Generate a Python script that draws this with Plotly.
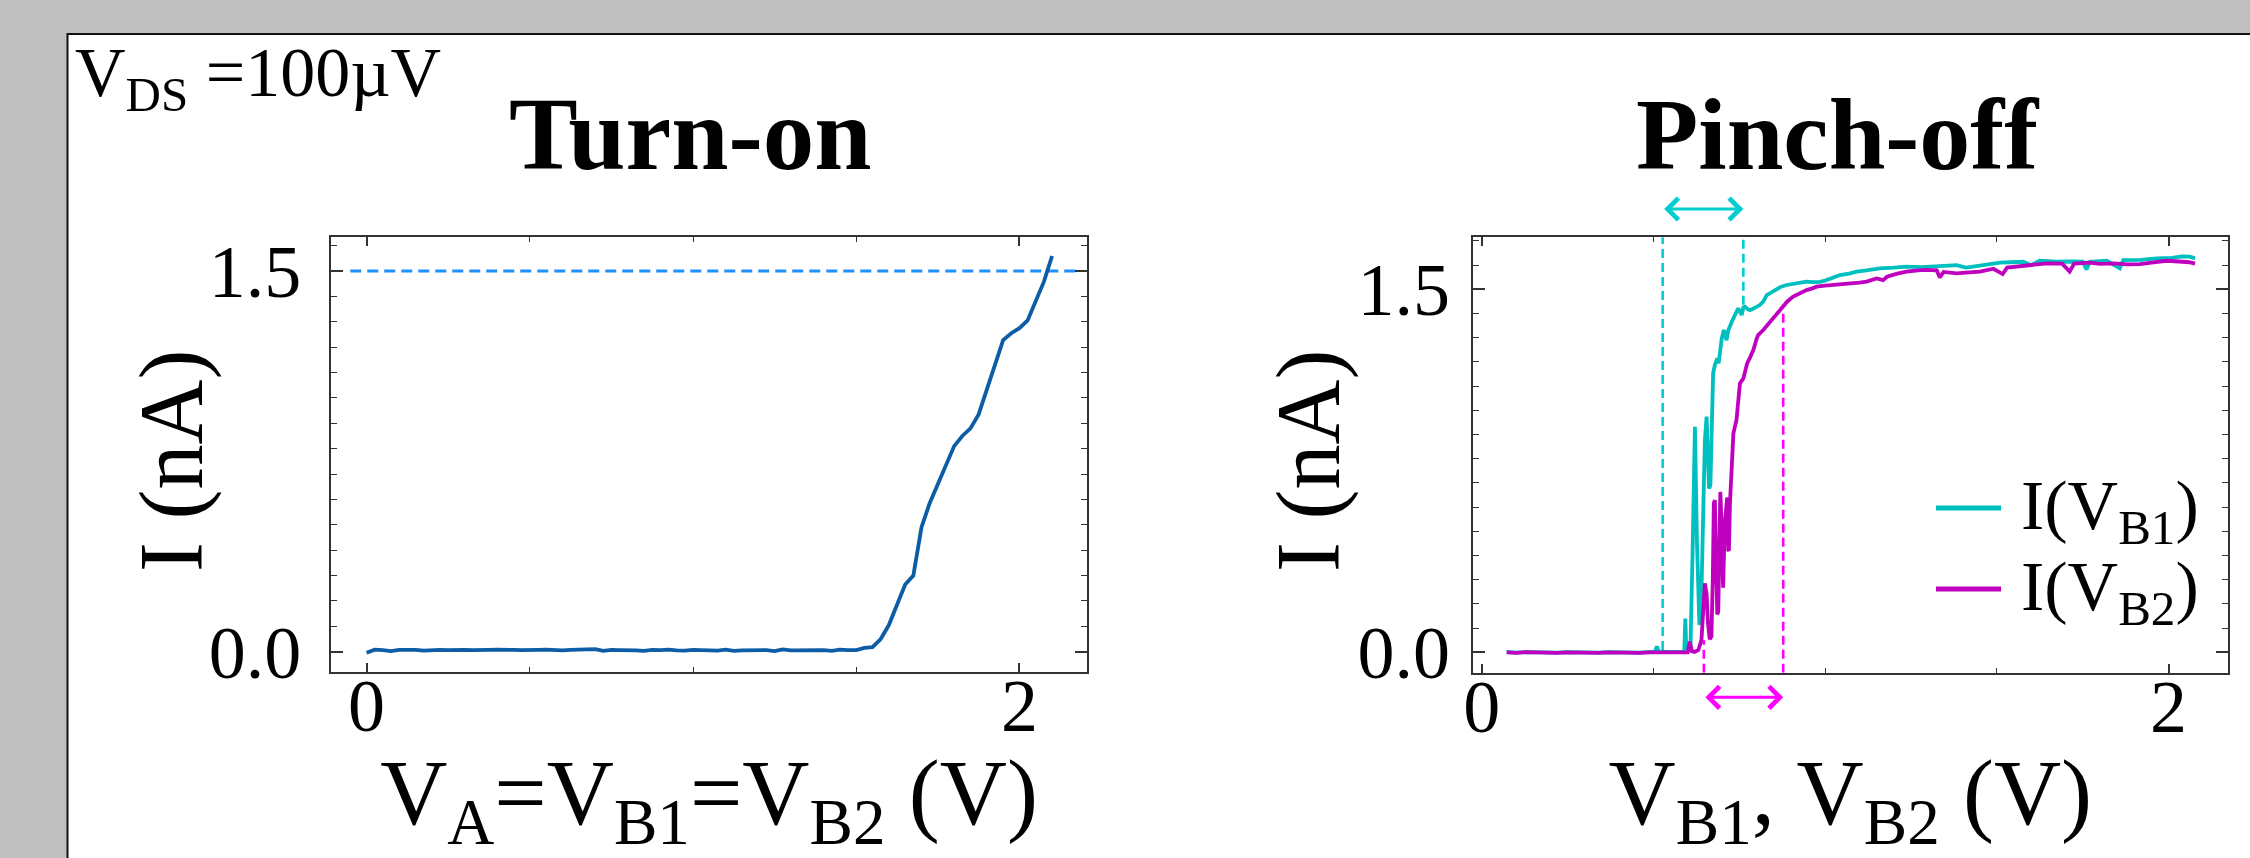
import plotly.graph_objects as go

# ---------------- data ----------------
# Turn-on sweep (V_A = V_B1 = V_B2)
turn_on_v = [0.000, 0.025, 0.050, 0.075, 0.100, 0.125, 0.150, 0.175, 0.200, 0.225,
             0.250, 0.275, 0.300, 0.325, 0.350, 0.375, 0.400, 0.425, 0.450, 0.475,
             0.500, 0.525, 0.550, 0.575, 0.600, 0.625, 0.650, 0.675, 0.700, 0.725,
             0.750, 0.775, 0.800, 0.825, 0.850, 0.875, 0.900, 0.925, 0.950, 0.975,
             1.000, 1.025, 1.050, 1.075, 1.100, 1.125, 1.150, 1.175, 1.200, 1.225,
             1.250, 1.275, 1.300, 1.325, 1.350, 1.375, 1.400, 1.425, 1.450, 1.475,
             1.500, 1.525, 1.550, 1.575, 1.600, 1.625, 1.650, 1.675, 1.700, 1.725,
             1.750, 1.775, 1.800, 1.825, 1.850, 1.875, 1.900, 1.925, 1.950, 1.975,
             2.000, 2.025, 2.050, 2.075, 2.100]
turn_on_i = [-0.004, 0.008, 0.006, 0.002, 0.007, 0.008, 0.007, 0.004, 0.006, 0.007,
             0.006, 0.008, 0.007, 0.006, 0.005, 0.007, 0.008, 0.006, 0.007, 0.006,
             0.005, 0.007, 0.008, 0.006, 0.005, 0.007, 0.009, 0.008, 0.010, 0.003,
             0.007, 0.006, 0.007, 0.005, 0.003, 0.007, 0.006, 0.008, 0.005, 0.004,
             0.007, 0.006, 0.003, 0.004, 0.008, 0.003, 0.005, 0.006, 0.004, 0.006,
             0.002, 0.009, 0.005, 0.005, 0.007, 0.007, 0.006, 0.003, 0.008, 0.006,
             0.006, 0.015, 0.018, 0.050, 0.105, 0.185, 0.265, 0.300, 0.490, 0.585,
             0.660, 0.735, 0.810, 0.850, 0.880, 0.935, 1.030, 1.130, 1.228, 1.255,
             1.275, 1.305, 1.380, 1.458, 1.559]
turn_on_level = 1.5                 # nA, dashed reference current
turn_on_level_span = [-0.05, 2.19]  # V

# Pinch-off sweeps
b1_v = [0.073, 0.100, 0.130, 0.160, 0.190, 0.220, 0.250, 0.280, 0.310, 0.340,
        0.370, 0.400, 0.430, 0.460, 0.490, 0.505, 0.510, 0.515, 0.540, 0.570,
        0.590, 0.593, 0.596, 0.600, 0.608, 0.614, 0.621, 0.627, 0.634, 0.640,
        0.646, 0.650, 0.655, 0.659, 0.662, 0.666, 0.670, 0.674, 0.679, 0.683,
        0.686, 0.690, 0.695, 0.699, 0.705, 0.709, 0.713, 0.718, 0.723, 0.728,
        0.733, 0.740, 0.747, 0.752, 0.757, 0.762, 0.767, 0.775, 0.781, 0.790,
        0.801, 0.810, 0.820, 0.830, 0.839, 0.854, 0.870, 0.888, 0.905, 0.927,
        0.946, 0.965, 0.985, 1.000, 1.020, 1.043, 1.070, 1.092, 1.120, 1.160,
        1.200, 1.237, 1.280, 1.334, 1.360, 1.383, 1.410, 1.431, 1.470, 1.509,
        1.540, 1.577, 1.600, 1.625, 1.650, 1.674, 1.720, 1.750, 1.761, 1.771,
        1.800, 1.820, 1.858, 1.868, 1.920, 1.965, 2.010, 2.040, 2.062, 2.077]
b1_i = [0.002, -0.001, 0.001, 0.000, 0.002, -0.001, 0.001, 0.000, 0.002, -0.001,
        0.001, 0.000, 0.001, -0.001, 0.002, 0.003, 0.025, 0.004, 0.002, 0.003,
        0.003, 0.140, 0.005, 0.004, 0.020, 0.400, 0.932, 0.450, 0.113, 0.250,
        0.600, 0.877, 0.974, 0.800, 0.677, 0.690, 0.891, 1.153, 1.187, 1.210,
        1.215, 1.195, 1.260, 1.297, 1.332, 1.300, 1.290, 1.330, 1.352, 1.365,
        1.380, 1.405, 1.421, 1.410, 1.394, 1.425, 1.428, 1.418, 1.414, 1.420,
        1.428, 1.435, 1.449, 1.476, 1.483, 1.497, 1.510, 1.518, 1.522, 1.527,
        1.532, 1.530, 1.531, 1.536, 1.545, 1.559, 1.565, 1.573, 1.578, 1.587,
        1.590, 1.594, 1.592, 1.594, 1.598, 1.600, 1.590, 1.594, 1.602, 1.610,
        1.612, 1.614, 1.600, 1.618, 1.616, 1.614, 1.615, 1.614, 1.582, 1.614,
        1.616, 1.618, 1.587, 1.621, 1.622, 1.628, 1.630, 1.636, 1.635, 1.628]

b2_v = [0.073, 0.100, 0.130, 0.160, 0.190, 0.220, 0.250, 0.280, 0.310, 0.340,
        0.370, 0.400, 0.430, 0.460, 0.490, 0.520, 0.550, 0.580, 0.600, 0.606,
        0.612, 0.620, 0.631, 0.640, 0.646, 0.650, 0.655, 0.659, 0.664, 0.669,
        0.673, 0.676, 0.679, 0.682, 0.686, 0.689, 0.693, 0.695, 0.698, 0.701,
        0.703, 0.708, 0.713, 0.715, 0.718, 0.720, 0.723, 0.728, 0.733, 0.742,
        0.752, 0.762, 0.773, 0.782, 0.791, 0.801, 0.805, 0.820, 0.839, 0.859,
        0.878, 0.890, 0.907, 0.927, 0.946, 0.965, 0.975, 1.000, 1.030, 1.072,
        1.100, 1.121, 1.150, 1.169, 1.180, 1.210, 1.237, 1.270, 1.295, 1.325,
        1.334, 1.345, 1.383, 1.420, 1.451, 1.490, 1.517, 1.530, 1.577, 1.610,
        1.645, 1.690, 1.712, 1.725, 1.771, 1.800, 1.839, 1.880, 1.917, 1.950,
        1.994, 2.030, 2.060, 2.077]
b2_i = [0.000, -0.002, 0.001, -0.001, 0.000, -0.002, 0.000, -0.001, 0.001, -0.002,
        0.000, -0.001, 0.000, -0.002, 0.000, -0.001, 0.000, -0.001, 0.000, 0.044,
        0.005, 0.002, 0.010, 0.051, 0.180, 0.285, 0.240, 0.120, 0.054, 0.065,
        0.300, 0.616, 0.629, 0.423, 0.157, 0.168, 0.500, 0.663, 0.550, 0.271,
        0.267, 0.533, 0.636, 0.640, 0.423, 0.420, 0.616, 0.767, 0.905, 0.960,
        1.111, 1.132, 1.194, 1.220, 1.249, 1.297, 1.311, 1.332, 1.365, 1.394,
        1.430, 1.450, 1.470, 1.483, 1.497, 1.505, 1.511, 1.515, 1.518, 1.525,
        1.528, 1.532, 1.545, 1.538, 1.552, 1.565, 1.573, 1.578, 1.580, 1.578,
        1.549, 1.572, 1.566, 1.570, 1.573, 1.585, 1.563, 1.590, 1.596, 1.600,
        1.607, 1.606, 1.573, 1.606, 1.610, 1.605, 1.607, 1.603, 1.604, 1.610,
        1.618, 1.615, 1.612, 1.606]

# pinch-off windows (V) and the current where the markers meet the curves (nA)
b1_window = [0.527, 0.762]
b1_window_i = [0.010, 1.436]
b2_window = [0.647, 0.878]
b2_window_i = [0.050, 1.420]

series_names = ["I(V<sub>B1</sub>)", "I(V<sub>B2</sub>)"]

# axis settings
x1_range = [-0.109, 2.207]
y1_range = [-0.080, 1.634]
x2_range = [-0.026, 2.173]
y2_range = [-0.084, 1.715]
x_tickvals = [0, 2]
x_ticktext = ["0", "2"]
y_label_vals = [0.0, 1.5]
y_label_text = ["0.0", "1.5"]
y_major_unlabelled = [0.5, 1.0]

# ---------------- style ----------------
FONT = "Liberation Serif"
BLUE = "#0C5DA5"
DODGER = "#1E90FF"
CYAN = "#00BFBF"
MAGENTA = "#BF00BF"
CYAN_D = "#00CED1"
MAGENTA_D = "#FF00FF"
AXC = "#333333"
LW = 3.8

W, H = 2250, 858

fig = go.Figure()

# left panel
fig.add_trace(go.Scatter(x=turn_on_level_span, y=[turn_on_level, turn_on_level],
                         mode="lines", line=dict(color=DODGER, width=3, dash="11px,6px"),
                         showlegend=False, hoverinfo="skip", xaxis="x", yaxis="y"))
fig.add_trace(go.Scatter(x=turn_on_v, y=turn_on_i, mode="lines",
                         line=dict(color=BLUE, width=LW), showlegend=False,
                         xaxis="x", yaxis="y"))

# right panel: window markers
for v, lev in zip(b1_window, b1_window_i):
    fig.add_trace(go.Scatter(x=[v, v], y=[lev, y2_range[1]], mode="lines",
                             line=dict(color=CYAN_D, width=2.6, dash="9px,5px"),
                             showlegend=False, hoverinfo="skip", xaxis="x2", yaxis="y2"))
for v, lev in zip(b2_window, b2_window_i):
    fig.add_trace(go.Scatter(x=[v, v], y=[y2_range[0], lev], mode="lines",
                             line=dict(color=MAGENTA_D, width=2.6, dash="9px,5px"),
                             showlegend=False, hoverinfo="skip", xaxis="x2", yaxis="y2"))

fig.add_trace(go.Scatter(x=b1_v, y=b1_i, mode="lines", name=series_names[0],
                         line=dict(color=CYAN, width=LW), showlegend=False,
                         xaxis="x2", yaxis="y2"))
fig.add_trace(go.Scatter(x=b2_v, y=b2_i, mode="lines", name=series_names[1],
                         line=dict(color=MAGENTA, width=LW), showlegend=False,
                         xaxis="x2", yaxis="y2"))


def xax(domain, rng, anchor):
    return dict(domain=domain, range=rng, anchor=anchor, showgrid=False, zeroline=False,
                showline=True, linecolor=AXC, linewidth=2, mirror="allticks",
                ticks="inside", ticklen=9, tickwidth=1.6, tickcolor=AXC,
                tickvals=x_tickvals, ticktext=x_ticktext,
                tickfont=dict(family=FONT, size=74, color="black"),
                ticklabelstandoff=-32,
                minor=dict(dtick=0.5, tick0=0, ticks="inside", ticklen=5,
                           tickwidth=1.4, tickcolor=AXC, showgrid=False),
                automargin=False, fixedrange=True)


def yax(domain, rng, anchor, standoff):
    return dict(domain=domain, range=rng, anchor=anchor, showgrid=False, zeroline=False,
                showline=True, linecolor=AXC, linewidth=2, mirror="allticks",
                ticks="inside", ticklen=12, tickwidth=1.6, tickcolor=AXC,
                tickvals=y_label_vals, ticktext=y_label_text,
                tickfont=dict(family=FONT, size=74, color="black"),
                ticklabelstandoff=standoff,
                minor=dict(dtick=0.1, tick0=0, ticks="inside", ticklen=6,
                           tickwidth=1.4, tickcolor=AXC, showgrid=False),
                automargin=False, fixedrange=True)


def yax_major(overlay, rng, anchor):
    # unlabelled long ticks at 0.5 and 1.0 nA
    return dict(overlaying=overlay, range=rng, anchor=anchor, showgrid=False,
                zeroline=False, showline=False, mirror="allticks",
                ticks="inside", ticklen=12, tickwidth=1.6, tickcolor=AXC,
                tickvals=y_major_unlabelled, showticklabels=False,
                automargin=False, fixedrange=True)


D1x = [331 / W, 1087 / W]
D1y = [1 - 672 / H, 1 - 237 / H]
D2x = [1472.7 / W, 2228 / W]
D2y = [1 - 672.7 / H, 1 - 237.3 / H]

xa1 = xax(D1x, x1_range, "y")
xa1.update(title=dict(text="V<sub>A</sub>=V<sub>B1</sub>=V<sub>B2</sub> (V)",
                      font=dict(family=FONT, size=93, color="black"), standoff=24))
ya1 = yax(D1y, y1_range, "x", 13)
xa2 = xax(D2x, x2_range, "y2")
xa2.update(title=dict(text="V<sub>B1</sub>, V<sub>B2</sub> (V)",
                      font=dict(family=FONT, size=93, color="black"), standoff=24))
ya2 = yax(D2y, y2_range, "x2", 6)

fig.update_layout(
    width=W, height=H,
    margin=dict(l=0, r=0, t=0, b=0, pad=0),
    paper_bgcolor="#bfbfbf", plot_bgcolor="white",
    font=dict(family=FONT, color="black"),
    xaxis=xa1, yaxis=ya1, xaxis2=xa2, yaxis2=ya2,
    yaxis3=yax_major("y", y1_range, "x"),
    yaxis4=yax_major("y2", y2_range, "x2"),
    showlegend=False,
)

# white figure panel with black frame
fig.add_shape(type="rect", xref="paper", yref="paper",
              x0=67.5 / W, y0=-0.05, x1=1.05, y1=1 - 34 / H,
              line=dict(color="#111111", width=2), fillcolor="white", layer="below")

# y-axis titles
for xc in (172, 1309):
    fig.add_annotation(x=xc / W, xref="paper", y=1 - 461 / H, yref="paper",
                       xanchor="center", yanchor="middle", showarrow=False,
                       textangle=-90, text="I (nA)",
                       font=dict(family=FONT, size=90, color="black"))

# text
fig.add_annotation(x=73 / W, xref="paper", y=1 - 78 / H, yref="paper",
                   xanchor="left", yanchor="middle", showarrow=False,
                   text="V<sub>DS</sub> =100µV",
                   font=dict(family=FONT, size=70, color="black"))
fig.add_annotation(x=690 / W, xref="paper", y=1 - 134 / H, yref="paper",
                   xanchor="center", yanchor="middle", showarrow=False,
                   text="Turn-on",
                   font=dict(family=FONT, size=103, color="black", weight="bold"))
fig.add_annotation(x=1837 / W, xref="paper", y=1 - 134 / H, yref="paper",
                   xanchor="center", yanchor="middle", showarrow=False,
                   text="Pinch-off",
                   font=dict(family=FONT, size=102, color="black", weight="bold"))

# legend (drawn by hand so the line samples match the reference length)
legend_rows = [508, 589]
for name, col, ry in zip(series_names, [CYAN, MAGENTA], legend_rows):
    fig.add_shape(type="line", xref="paper", yref="paper",
                  x0=1936 / W, x1=2001 / W, y0=1 - ry / H, y1=1 - ry / H,
                  line=dict(color=col, width=5))
    fig.add_annotation(x=2019 / W, xref="paper", y=1 - (ry + 3) / H, yref="paper",
                       xanchor="left", yanchor="middle", showarrow=False,
                       text=name, font=dict(family=FONT, size=70, color="black"))

# double-headed window arrows
fig.add_annotation(x=b1_window[1], xref="x2", ax=b1_window[0], axref="x2",
                   y=1.065, yref="y2 domain", ay=0, ayref="pixel",
                   text="", showarrow=True, arrowside="end+start",
                   arrowhead=4, startarrowhead=4, arrowsize=1.4, startarrowsize=1.4,
                   arrowwidth=3, arrowcolor=CYAN_D, standoff=0, startstandoff=0)
fig.add_annotation(x=b2_window[1], xref="x2", ax=b2_window[0], axref="x2",
                   y=-0.0565, yref="y2 domain", ay=0, ayref="pixel",
                   text="", showarrow=True, arrowside="end+start",
                   arrowhead=4, startarrowhead=4, arrowsize=1.4, startarrowsize=1.4,
                   arrowwidth=3, arrowcolor=MAGENTA_D, standoff=0, startstandoff=0)

fig.write_html("out.html")
